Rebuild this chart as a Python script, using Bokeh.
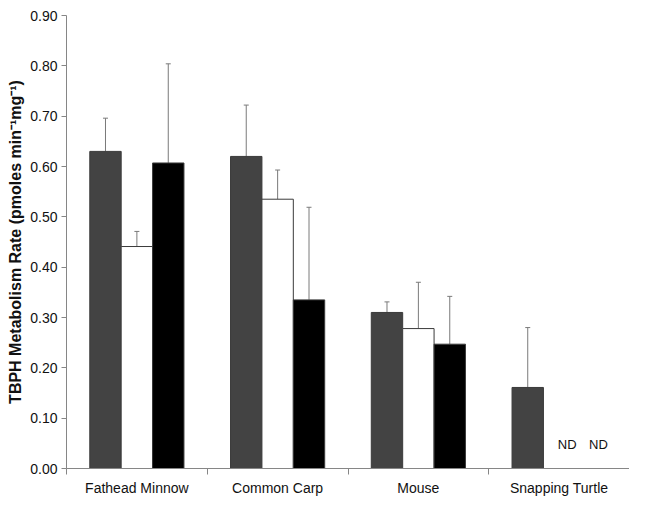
from bokeh.plotting import figure
from bokeh.models import (ColumnDataSource, Range1d, FixedTicker,
                          NumeralTickFormatter, Whisker, TeeHead)
from bokeh.transform import dodge
from bokeh.core.properties import value
from bokeh.embed import file_html
from bokeh.resources import INLINE

categories = ["Fathead Minnow", "Common Carp", "Mouse", "Snapping Turtle"]
series_dark = [0.630, 0.620, 0.310, 0.161]
err_dark = [0.066, 0.102, 0.021, 0.119]
series_white = [0.441, 0.535, 0.278, float("nan")]
err_white = [0.030, 0.058, 0.092, float("nan")]
series_black = [0.607, 0.335, 0.247, float("nan")]
err_black = [0.197, 0.184, 0.095, float("nan")]
nd_label = ["", "", "", "ND"]
y_ticks = [0.0, 0.1, 0.2, 0.3, 0.4, 0.5, 0.6, 0.7, 0.8, 0.9]

xc = [i + 0.5 for i in range(len(categories))]
bounds = list(range(len(categories) + 1))

BW = 0.223
FONT = "Liberation Sans"
AX = "#868686"

p = figure(width=629, height=498, output_backend="svg", toolbar_location=None,
           x_range=Range1d(0, len(categories)), y_range=Range1d(0, 0.9),
           min_border_left=66, min_border_right=0, min_border_top=15, min_border_bottom=28)
p.outline_line_color = None
p.xgrid.visible = False
p.ygrid.visible = False

specs = [
    (series_dark, err_dark, -BW, "#434343"),
    (series_white, err_white, 0.0, "#ffffff"),
    (series_black, err_black, BW, "#000000"),
]
for vals, errs, off, col in specs:
    src = ColumnDataSource(dict(x=xc, top=vals, up=[v + e for v, e in zip(vals, errs)]))
    p.vbar(x=dodge("x", off, range=p.x_range), top="top", bottom=0, width=BW,
           source=src, fill_color=col, line_color="#3a3a3a", line_width=1)
    w = Whisker(base=dodge("x", off, range=p.x_range), lower="top", upper="up",
                source=src, dimension="height", line_color="#7a7a7a", line_width=1,
                upper_head=TeeHead(size=5, line_color="#7a7a7a", line_width=1),
                lower_head=None)
    p.add_layout(w)

nd_src = ColumnDataSource(dict(x=xc, y=[0.047] * len(xc), t=nd_label))
for off in (0.0, BW):
    p.text(x=dodge("x", off, range=p.x_range), y="y", text="t", source=nd_src,
           text_align="center", text_baseline="middle", x_offset=8,
           text_font=value(FONT), text_font_size="13px", text_color="#111111")

# x axis: labels at category centers, ticks at category boundaries
xa = p.xaxis[0]
xa.ticker = FixedTicker(ticks=xc, minor_ticks=bounds)
xa.major_label_overrides = {c: n for c, n in zip(xc, categories)}
xa.major_tick_line_color = None
xa.minor_tick_in = 0
xa.minor_tick_out = 6
xa.minor_tick_line_color = AX
xa.axis_line_color = AX
xa.major_label_standoff = 5
xa.major_label_text_font = FONT
xa.major_label_text_font_size = "14px"
xa.major_label_text_color = "#111111"

ya = p.yaxis[0]
ya.ticker = FixedTicker(ticks=y_ticks)
ya.formatter = NumeralTickFormatter(format="0.00")
ya.major_tick_in = 0
ya.major_tick_out = 5
ya.minor_tick_line_color = None
ya.major_tick_line_color = AX
ya.axis_line_color = AX
ya.major_label_standoff = 4
ya.major_label_text_font = FONT
ya.major_label_text_font_size = "14px"
ya.major_label_text_color = "#111111"
ya.axis_label = "TBPH Metabolism Rate (pmoles min\u207b\u00b9mg\u207b\u00b9)"
ya.axis_label_text_font = FONT
ya.axis_label_text_font_style = "bold"
ya.axis_label_text_font_size = "16px"
ya.axis_label_text_color = "#111111"
ya.axis_label_standoff = 3

open("out.html", "w").write(file_html(p, INLINE))
